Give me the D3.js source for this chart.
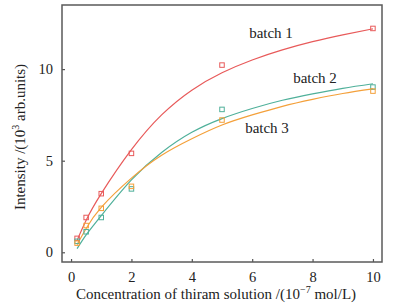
<!DOCTYPE html>
<html>
<head>
<meta charset="utf-8">
<script src="https://cdn.jsdelivr.net/npm/d3@7"></script>
<style>
  body { margin: 0; background: #fff; }
  svg { display: block; }
  text { font-family: "Liberation Serif", "DejaVu Serif", serif; fill: #222; }
</style>
</head>
<body>
<svg id="chart"></svg>
<script>
// measured points
const conc = [0.2, 0.5, 1, 2, 5, 10];
const batch1 = [0.76, 1.9, 3.2, 5.4, 10.22, 12.22];
const batch2 = [0.6, 1.12, 1.9, 3.46, 7.8, 9.02];
const batch3 = [0.5, 1.46, 2.4, 3.6, 7.22, 8.8];

// fitted curves
const fitX = [0.2, 0.5, 1, 2, 3, 4, 5, 6, 7, 8, 9, 10];
const fit1 = [0.65, 1.75, 3.2, 5.6, 7.5, 8.85, 9.8, 10.5, 11.05, 11.5, 11.87, 12.2];
const fit2 = [0.2, 0.95, 2.0, 3.95, 5.45, 6.55, 7.3, 7.85, 8.3, 8.65, 8.95, 9.2];
const fit3 = [0.42, 1.3, 2.45, 4.05, 5.3, 6.2, 6.95, 7.5, 7.97, 8.35, 8.67, 8.92];

const xTicks = [0, 2, 4, 6, 8, 10];
const yTicks = [0, 5, 10];

const names = ["batch 1", "batch 2", "batch 3"];
const colors = ["#e85a5a", "#4fb09a", "#f4a03a"];

const width = 400;
const height = 306;
const plotL = 62, plotR = 382, plotT = 5, plotB = 262;

let svg = d3.select("#chart").attr("width", width).attr("height", height);

let xScale = d3.scaleLinear().domain([-0.3, 10.3]).range([plotL, plotR]);
let yScale = d3.scaleLinear().domain([-0.53, 13.5]).range([plotB, plotT]);

// axes, ticks pointing in
let xAxis = d3.axisBottom(xScale).tickValues(xTicks).tickSizeInner(-3).tickSizeOuter(0).tickPadding(10);
let gx = svg.append("g")
  .attr("transform", "translate(0," + plotB + ")")
  .call(xAxis);

let yAxis = d3.axisLeft(yScale).tickValues(yTicks).tickSizeInner(-3).tickSizeOuter(0).tickPadding(9);
let gy = svg.append("g")
  .attr("transform", "translate(" + plotL + ",0)")
  .call(yAxis);

[gx, gy].forEach(g => {
  g.select(".domain").remove();
  g.selectAll(".tick line").attr("stroke", "#555").attr("stroke-width", 1.2);
  g.selectAll(".tick text")
    .style("font-family", '"Liberation Serif", serif')
    .style("font-size", "14.5px")
    .attr("fill", "#222");
});

// frame
svg.append("rect")
  .attr("x", plotL).attr("y", plotT)
  .attr("width", plotR - plotL).attr("height", plotB - plotT)
  .attr("fill", "none").attr("stroke", "#5a5a5a").attr("stroke-width", 1.5);

// curves
let line = d3.line()
  .x(d => xScale(d[0]))
  .y(d => yScale(d[1]))
  .curve(d3.curveNatural);

[fit1, fit2, fit3].forEach((fit, i) => {
  svg.append("path")
    .datum(fitX.map((x, j) => [x, fit[j]]))
    .attr("d", line)
    .attr("fill", "none")
    .attr("stroke", colors[i])
    .attr("stroke-width", 1.2);
});

// markers
const sq = 4.5;
[batch1, batch2, batch3].forEach((vals, i) => {
  svg.append("g").selectAll("rect")
    .data(conc.map((x, j) => [x, vals[j]]))
    .enter()
    .append("rect")
    .attr("x", d => xScale(d[0]) - sq / 2)
    .attr("y", d => yScale(d[1]) - sq / 2)
    .attr("width", sq)
    .attr("height", sq)
    .attr("fill", "none")
    .attr("stroke", colors[i])
    .attr("stroke-width", 1);
});

// series labels
const labelPos = [[271, 38], [315, 83], [267, 133]];
names.forEach((n, i) => {
  svg.append("text")
    .attr("x", labelPos[i][0])
    .attr("y", labelPos[i][1])
    .attr("text-anchor", "middle")
    .style("font-size", "15px")
    .text(n);
});

// axis titles
let xt = svg.append("text")
  .attr("x", 216).attr("y", 299)
  .attr("text-anchor", "middle")
  .style("font-size", "15px");
xt.append("tspan").text("Concentration of thiram solution /(10");
xt.append("tspan").attr("dy", -6).style("font-size", "10px").text("\u22127");
xt.append("tspan").attr("dy", 6).text(" mol/L)");

let yt = svg.append("text")
  .attr("transform", "translate(25,137) rotate(-90)")
  .attr("text-anchor", "middle")
  .style("font-size", "15px");
yt.append("tspan").text("Intensity /(10");
yt.append("tspan").attr("dy", -6).style("font-size", "10px").text("3");
yt.append("tspan").attr("dy", 6).text(" arb.units)");
</script>
</body>
</html>
